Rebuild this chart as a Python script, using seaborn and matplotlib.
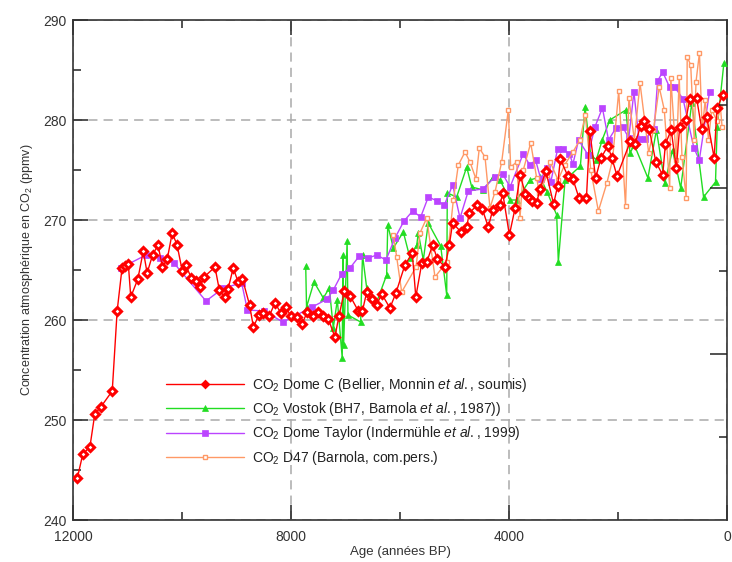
import matplotlib
matplotlib.use("Agg")
import matplotlib.pyplot as plt
import seaborn as sns
import pandas as pd

# ---------------- data (age in years BP, CO2 in ppmv) ----------------
domec_age = [11920, 11820, 11690, 11600, 11490, 11280, 11190, 11100, 11045, 10985,
             10940, 10810, 10710, 10640, 10540, 10440, 10360, 10270, 10180, 10090,
             9995, 9930, 9830, 9750, 9665, 9595, 9395, 9315, 9220, 9155,
             9060, 8970, 8890, 8760, 8690, 8590, 8510, 8400, 8295, 8185,
             8095, 8005, 7895, 7800, 7700, 7590, 7500, 7420, 7315, 7195,
             7120, 7020, 6915, 6765, 6690, 6610, 6520, 6430, 6335, 6185,
             6075, 5910, 5775, 5710, 5600, 5510, 5400, 5315, 5175, 5095,
             5035, 4880, 4775, 4730, 4580, 4490, 4380, 4300, 4165, 4115,
             3993, 3888, 3795, 3699, 3637, 3575, 3494, 3431, 3325, 3182,
             3108, 3058, 2921, 2827, 2716, 2579, 2517, 2411, 2312, 2187,
             2112, 2018, 1771, 1690, 1584, 1521, 1428, 1305, 1180, 1130,
             1024, 930, 868, 756, 682, 558, 464, 371, 235, 185,
             73]
domec_co2 = [244.2, 246.6, 247.3, 250.6, 251.3, 252.9, 260.9, 265.2, 265.4, 265.6,
             262.3, 264.1, 266.9, 264.7, 266.5, 267.5, 265.3, 266.1, 268.7, 267.5,
             264.9, 265.5, 264.2, 263.9, 263.3, 264.3, 265.3, 263.0, 262.3, 263.1,
             265.2, 263.8, 264.1, 261.5, 259.3, 260.5, 260.7, 260.4, 261.7, 260.7,
             261.3, 260.4, 260.3, 259.6, 260.8, 260.4, 260.8, 260.4, 260.1, 258.3,
             260.4, 262.9, 262.4, 260.9, 260.9, 262.8, 262.1, 261.5, 262.6, 261.2,
             262.7, 265.5, 266.7, 262.3, 265.7, 265.8, 267.5, 266.1, 265.3, 267.5,
             269.7, 268.8, 269.3, 270.7, 271.5, 271.1, 269.3, 271.0, 271.5, 272.7,
             268.5, 271.2, 274.5, 272.6, 272.2, 271.9, 271.7, 273.1, 274.9, 271.6,
             273.4, 276.1, 274.4, 274.1, 272.2, 272.2, 278.9, 274.2, 276.2, 277.4,
             276.2, 274.4, 277.9, 277.6, 279.4, 279.9, 279.1, 275.8, 274.5, 277.6,
             279.0, 275.2, 279.3, 280.0, 282.1, 282.2, 279.1, 280.3, 276.2, 281.2,
             282.5]

vostok_age = [7730, 7715, 7578, 7407, 7297, 7224, 7150, 7060, 7048, 7035,
              6970, 6955, 6722, 6688, 6611, 6428, 6245, 6225, 6122, 5939,
              5817, 5693, 5664, 5572, 5481, 5253, 5143, 5132, 4960, 4776,
              4684, 4471, 4288, 4165, 3982, 3859, 3615, 3431, 3300, 3125,
              3095, 2971, 2690, 2605, 2500, 2400, 2290, 2150, 1855, 1780,
              1700, 1451, 1295, 1141, 1000, 850, 646, 430, 211, 180,
              57]
vostok_co2 = [265.4, 261.3, 263.8, 262.2, 263.2, 259.2, 262.0, 256.2, 266.5, 257.5,
              267.9, 260.5, 259.8, 266.5, 263.2, 261.8, 264.5, 269.5, 267.2, 268.8,
              266.2, 267.5, 268.7, 266.0, 269.7, 267.4, 262.5, 272.7, 272.3, 275.3,
              273.3, 273.0, 274.3, 274.0, 272.0, 272.0, 274.0, 274.3, 272.8, 270.5,
              265.8, 274.0, 275.4, 281.3, 276.5, 276.0, 278.0, 280.0, 281.0, 276.7,
              277.5, 274.2, 279.0, 273.7, 277.0, 273.2, 281.7, 272.3, 273.8, 279.3,
              285.7]

taylor_age = [11125, 10660, 10400, 10150, 9560, 9240, 8905, 8800, 8495, 8150,
              7610, 7334, 7224, 7070, 6917, 6746, 6581, 6428, 6257, 6092,
              5927, 5767, 5620, 5481, 5315, 5187, 5033, 4899, 4747, 4483,
              4257, 4116, 3980, 3741, 3618, 3512, 3418, 3306, 3233, 3108,
              3015, 2890, 2827, 2723, 2548, 2424, 2286, 2174, 2038, 1913,
              1802, 1708, 1615, 1503, 1336, 1274, 1180, 1055, 961, 806,
              607, 508, 321]
taylor_co2 = [265.2, 266.5, 266.2, 265.7, 261.9, 263.2, 263.7, 261.0, 260.9, 259.8,
              261.3, 262.1, 263.0, 264.6, 265.2, 266.4, 266.2, 266.5, 266.0, 268.2,
              269.9, 270.9, 270.3, 272.3, 271.9, 271.5, 273.5, 270.2, 272.9, 273.1,
              274.3, 274.6, 273.3, 276.6, 275.5, 276.0, 274.1, 275.2, 273.8, 277.1,
              277.1, 276.6, 275.6, 278.0, 276.5, 279.3, 281.2, 278.0, 279.2, 279.3,
              278.2, 282.8, 278.1, 278.1, 279.1, 283.9, 284.8, 283.3, 283.3, 282.1,
              277.2, 276.0, 282.8]

d47_age = [6122, 6061, 5969, 5706, 5633, 5510, 5358, 5143, 5021, 4930,
           4807, 4716, 4606, 4545, 4440, 4349, 4257, 4134, 4013, 3969,
           3859, 3798, 3738, 3602, 3492, 3444, 3300, 3244, 3100, 2980,
           2827, 2700, 2600, 2500, 2360, 2204, 2100, 1987, 1862, 1800,
           1700, 1596, 1437, 1350, 1244, 1150, 1051, 1031, 930, 877,
           826, 749, 730, 666, 602, 569, 506, 455, 400, 340,
           280, 182, 121, 90]
d47_co2 = [268.5, 266.3, 262.8, 265.3, 268.7, 270.2, 264.3, 265.8, 272.0, 275.5,
           276.8, 275.8, 274.1, 277.2, 276.3, 271.2, 272.8, 275.8, 281.0, 275.3,
           275.8, 270.2, 275.0, 277.7, 274.2, 272.7, 274.5, 275.8, 274.0, 275.5,
           276.8, 278.0, 280.5, 275.0, 270.9, 273.7, 276.0, 282.9, 271.4, 282.2,
           278.0, 283.7, 276.7, 279.0, 283.3, 281.0, 273.2, 284.2, 276.0, 284.3,
           276.3, 272.2, 286.3, 285.5, 278.0, 283.8, 286.7, 279.0, 282.0, 278.0,
           281.0, 279.9, 281.3, 279.3]

labels = [r"CO$_2$ Dome C (Bellier, Monnin $\it{et\ al.}$, soumis)",
          r"CO$_2$ Vostok (BH7, Barnola $\it{et\ al.}$, 1987))",
          r"CO$_2$ Dome Taylor (Indermühle $\it{et\ al.}$, 1999)",
          r"CO$_2$ D47 (Barnola, com.pers.)"]
x_major = [12000, 8000, 4000, 0]
x_minor = [10000, 6000, 2000]
y_major = [240, 250, 260, 270, 280, 290]
y_minor = [245, 255, 265, 275, 285]

# ---------------- style ----------------
sns.set_style("ticks")
plt.rcParams["font.family"] = ["Liberation Sans", "DejaVu Sans"]
plt.rcParams["mathtext.fontset"] = "custom"
plt.rcParams["mathtext.rm"] = "Liberation Sans"
plt.rcParams["mathtext.it"] = "Liberation Sans:italic"
plt.rcParams["mathtext.bf"] = "Liberation Sans:bold"

fig = plt.figure(figsize=(7.32, 5.62), dpi=100)
ax = fig.add_axes([73 / 732, 42 / 562, 654 / 732, 500 / 562])

df_c = pd.DataFrame({"age": domec_age, "co2": domec_co2})
df_v = pd.DataFrame({"age": vostok_age, "co2": vostok_co2})
df_t = pd.DataFrame({"age": taylor_age, "co2": taylor_co2})
df_d = pd.DataFrame({"age": d47_age, "co2": d47_co2})

green = "#22dd22"
purple = "#bb44ff"
orange = "#ff9966"
red = "#ff0000"

sns.lineplot(data=df_v, x="age", y="co2", ax=ax, sort=False, estimator=None,
             color=green, lw=1.0, marker="^", markersize=4.5,
             markerfacecolor=green, markeredgecolor=green, markeredgewidth=0.5,
             label=labels[1], zorder=3)
sns.lineplot(data=df_t, x="age", y="co2", ax=ax, sort=False, estimator=None,
             color=purple, lw=1.0, marker="s", markersize=5,
             markerfacecolor=purple, markeredgecolor=purple, markeredgewidth=0.5,
             label=labels[2], zorder=4)
sns.lineplot(data=df_d, x="age", y="co2", ax=ax, sort=False, estimator=None,
             color=orange, lw=1.0, marker="s", markersize=3.5,
             markerfacecolor="white", markeredgecolor=orange, markeredgewidth=1.0,
             label=labels[3], zorder=5)
sns.lineplot(data=df_c, x="age", y="co2", ax=ax, sort=False, estimator=None,
             color=red, lw=1.0, marker="D", markersize=4.3,
             markerfacecolor="white", markeredgecolor=red, markeredgewidth=2.2,
             label=labels[0], zorder=6)

ax.set_xlim(12000, 0)
ax.set_ylim(240, 290)
ax.set_xticks(x_major)
ax.set_xticks(x_minor, minor=True)
ax.set_xticklabels([str(v) for v in x_major])
ax.set_yticks(y_major)
ax.set_yticks(y_minor, minor=True)
ax.set_yticklabels([str(v) for v in y_major])

ax.grid(True, which="major", color="#aaaaaa", linestyle=(0, (6, 4)), linewidth=1.1)
ax.set_axisbelow(True)
ax.tick_params(which="major", direction="in", length=11, width=1.1, color="#222222",
               top=True, right=False, labelsize=10, labelcolor="#333333")
ax.tick_params(axis="x", which="major", pad=7)
ax.tick_params(axis="y", which="major", pad=4.5)
ax.tick_params(which="minor", direction="in", length=6, width=1.1, color="#222222",
               top=True, right=False)
for s in ax.spines.values():
    s.set_color("#333333")
    s.set_linewidth(1.2)

ax.set_xlabel("Age (années BP)", fontsize=9.5, color="#333333", labelpad=2)
ax.set_ylabel(r"Concentration atmosphérique en CO$_2$ (ppmv)", fontsize=9,
              color="#333333", labelpad=6)

# independent right-hand axis ticks (no labels)
ax2 = ax.twinx()
ax2.set_ylim(0, 500)
ax2.set_yticks([166, 332])
ax2.set_yticks([83, 249, 415], minor=True)
ax2.tick_params(which="major", direction="in", length=12, width=1.1, color="#222222",
                labelright=False)
ax2.tick_params(which="minor", direction="in", length=6, width=1.1, color="#222222",
                labelright=False)
ax2.set_ylabel("")
for s in ax2.spines.values():
    s.set_visible(False)

h, l = ax.get_legend_handles_labels()
order = [labels.index(x) for x in l]
hl = sorted(zip(order, h, l))
leg = ax.legend([x[1] for x in hl], [x[2] for x in hl],
                loc="upper left", bbox_to_anchor=(0.142, 0.288),
                frameon=False, fontsize=10, handlelength=5.6, handletextpad=0.6,
                labelspacing=0.45, borderpad=0, borderaxespad=0)
for t in leg.get_texts():
    t.set_color("#222222")
lh = leg.legend_handles[0]
lh.set_markerfacecolor(red)
lh.set_markersize(3.5)
lh.set_markeredgewidth(1.5)

fig.savefig("out.png", dpi=100)
